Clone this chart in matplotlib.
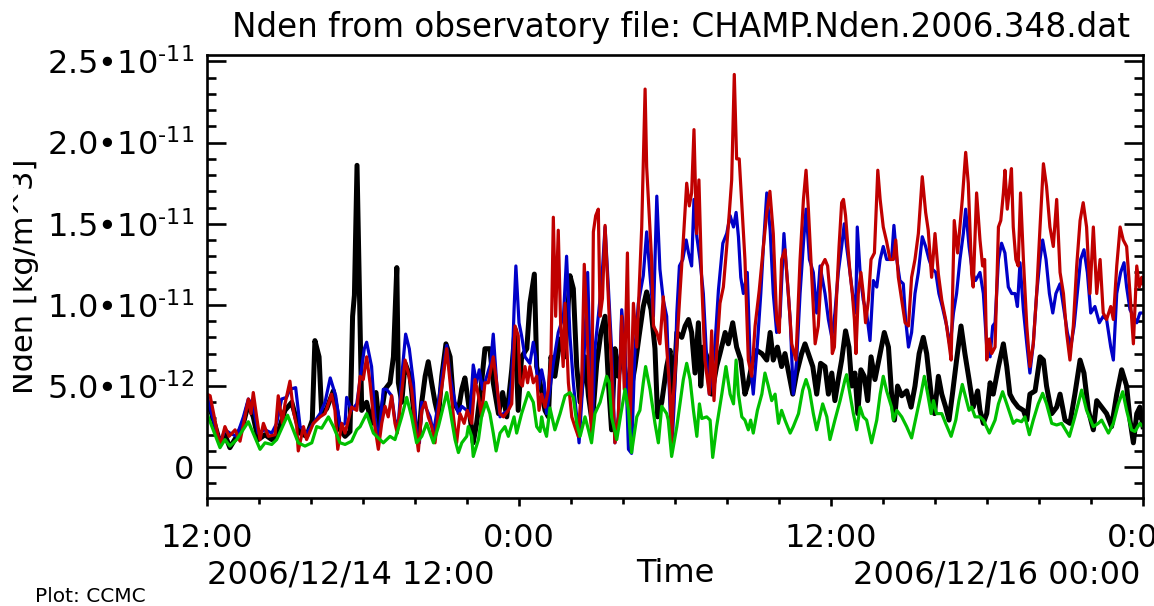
import numpy as np
import matplotlib
matplotlib.use('Agg')
import matplotlib.pyplot as plt
from matplotlib.ticker import MultipleLocator
from matplotlib.transforms import Bbox, TransformedBbox

plt.rcParams['font.family'] = ['DejaVu Sans']
plt.rcParams['mathtext.fontset'] = 'dejavusans'

# hours after 2006/12/14 12:00, densities in units of 1e-12 kg/m^3
t_black = [0.0, 0.18, 0.5, 0.69, 0.88, 1.14, 1.40, 1.59, 1.78, 1.97, 2.23, 2.49, 2.68, 3.00, 3.26, 3.58, 3.83, 4.05, 4.15, 4.31,
           4.41, 4.60, 4.86, 5.12, 5.31, 5.50, 5.60, 5.67, 5.77,
           5.95, 6.14, 6.33, 6.50, 6.63, 6.85, 7.04, 7.17, 7.30, 7.36, 7.49, 7.62, 7.81, 8.00, 8.13, 8.26, 8.39, 8.51, 8.64, 8.77,
           8.90, 9.03, 9.19, 9.35, 9.48, 9.67, 9.80, 9.92, 10.05, 10.24, 10.37, 10.56, 10.69, 10.88, 11.01, 11.21, 11.37, 11.53, 11.72, 11.85, 11.97,
           12.10, 12.30, 12.42, 12.59, 12.68, 12.81, 13.00, 13.13, 13.23, 13.38, 13.58, 13.77, 13.96, 14.09, 14.22, 14.35, 14.54, 14.67, 14.82, 14.99,
           15.15, 15.31, 15.44, 15.56, 15.69, 15.82, 15.97, 16.14, 16.31, 16.46, 16.62, 16.78, 16.91, 17.08, 17.23, 17.33, 17.49, 17.68,
           17.81, 17.94, 18.07, 18.26, 18.39, 18.52, 18.64, 18.77, 18.90, 18.99, 19.09, 19.28, 19.41, 19.60, 19.73, 19.93, 20.05, 20.22, 20.37, 20.53,
           20.69, 20.82, 20.99, 21.14, 21.34, 21.53, 21.66, 21.78, 21.94, 22.10, 22.23, 22.40, 22.53, 22.68, 22.87, 23.00, 23.13, 23.30, 23.45, 23.60,
           23.77, 23.90, 24.03, 24.15, 24.28, 24.41, 24.56, 24.69, 24.80, 24.92, 25.03, 25.15, 25.28, 25.41, 25.54, 25.69, 25.89, 26.05, 26.21, 26.33,
           26.44, 26.56, 26.72, 26.91, 27.08, 27.23, 27.39, 27.55, 27.68, 27.85, 27.98, 28.13, 28.26, 28.41, 28.54, 28.67, 28.83, 29.00, 29.15, 29.31,
           29.47, 29.64,
           29.73, 29.86, 29.99, 30.12, 30.24, 30.44, 30.63, 30.76, 30.88, 31.01, 31.20, 31.40, 31.53, 31.65, 31.85, 32.04, 32.17, 32.29, 32.49, 32.68,
           32.81, 33.00, 33.19, 33.38, 33.58, 33.73, 33.90, 34.09, 34.22, 34.41, 34.60, 34.79, 34.99, 35.18, 35.37, 35.50, 35.63, 35.76, 35.88, 36.0]
v_black = [4.0, 3.3, 1.5, 2.0, 1.2, 1.9, 2.7, 3.9, 3.1, 1.7, 2.0, 1.7, 1.9, 3.5, 4.0, 2.1, 1.9, 2.9, 7.8, 6.8,
           3.3, 3.6, 4.7, 2.3, 1.9, 2.2, 9.3, 10.6, 18.6,
           3.5, 4.0, 2.7, 4.6, 2.5, 4.8, 5.2, 6.8, 12.3, 5.2, 4.0, 6.4, 5.6, 2.7, 1.7, 4.0, 5.6, 6.5, 5.2, 4.0,
           3.1, 5.6, 7.6, 6.8, 4.0, 3.5, 4.8, 5.5, 4.0, 1.5, 2.7, 5.2, 7.3, 7.3, 5.2, 3.3, 4.6, 3.1, 6.0, 8.5, 3.5,
           6.8, 7.3, 10.1, 11.9, 6.2, 5.2, 3.5, 3.1, 6.8, 5.6, 7.9, 6.8, 11.8, 11.0, 6.2, 4.0, 6.8, 4.4, 2.7, 6.4,
           8.3, 9.3, 5.2, 2.3, 7.3, 5.6, 7.3, 5.2, 4.8, 6.2, 8.1, 9.9, 10.8, 9.7, 7.3, 3.1, 4.0, 6.2,
           7.2, 4.5, 8.3, 8.0, 8.7, 9.1, 8.3, 5.8, 8.9, 5.0, 7.4, 6.6, 4.5, 6.2, 7.0, 8.3, 7.6, 8.9, 7.4, 6.6,
           4.5, 5.2, 6.6, 7.2, 7.0, 6.6, 8.3, 6.6, 7.4, 6.2, 7.0, 5.6, 4.5, 5.8, 7.0, 7.6, 7.0, 6.2, 4.5, 6.4,
           6.2, 4.5, 5.8, 4.1, 5.4, 6.6, 8.4, 7.4, 5.0, 5.8, 3.3, 6.0, 5.6, 4.1, 6.8, 5.4, 7.0, 8.3, 7.4, 4.5,
           2.9, 5.0, 4.4, 4.7, 3.7, 5.0, 7.0, 8.0, 7.0, 4.5, 3.3, 5.6, 4.5, 3.7, 2.9, 4.5, 6.6, 8.7, 7.0, 5.4,
           3.7, 4.7,
           3.5, 2.7, 3.3, 5.2, 4.5, 6.2, 7.6, 6.2, 4.5, 4.1, 3.7, 3.5, 2.9, 4.5, 4.7, 6.8, 6.6, 5.0, 3.3, 3.7,
           4.5, 2.9, 2.7, 4.5, 6.6, 5.8, 3.5, 2.3, 4.1, 3.7, 3.3, 2.5, 4.5, 6.0, 5.0, 2.9, 1.5, 3.3, 3.7, 2.5]

t_blue = [0.0, 0.18, 0.5, 0.69, 0.88, 1.14, 1.40, 1.59, 1.78, 1.97, 2.23, 2.49, 2.68, 2.87, 3.06, 3.19, 3.41, 3.58, 3.83, 4.09,
          4.35, 4.54, 4.74, 4.95, 5.12, 5.31, 5.37, 5.56, 5.76, 6.05,
          6.14, 6.33, 6.46, 6.59, 6.78, 6.91, 7.10, 7.23, 7.36, 7.49, 7.64, 7.78, 7.94, 8.06, 8.17, 8.26, 8.39, 8.58, 8.71, 8.90,
          9.09, 9.22, 9.35, 9.54, 9.67, 9.80, 9.99, 10.12, 10.24, 10.37, 10.47, 10.60, 10.76, 10.91, 11.01, 11.14, 11.27, 11.40, 11.59, 11.72,
          11.81, 11.88,
          12.0, 12.10, 12.23, 12.42, 12.55, 12.64, 12.74, 12.87, 12.97, 13.06, 13.19, 13.32, 13.51, 13.71, 13.83, 13.96, 14.09, 14.22, 14.31, 14.41,
          14.54, 14.64, 14.73, 14.82, 14.92, 15.05, 15.18, 15.31, 15.44, 15.56, 15.69, 15.82, 15.95, 16.08, 16.21, 16.33, 16.46, 16.59, 16.78, 16.91,
          17.04, 17.17, 17.30, 17.42, 17.55, 17.68, 17.81, 17.90, 17.97,
          18.07, 18.17, 18.30, 18.43, 18.52, 18.64, 18.73, 18.84, 18.96, 19.09, 19.22, 19.32, 19.41, 19.54, 19.67, 19.84, 19.99, 20.12, 20.25, 20.35,
          20.44, 20.53, 20.63, 20.78, 20.89, 21.01, 21.17, 21.30, 21.40, 21.53, 21.66, 21.78, 21.91, 22.04, 22.19, 22.30, 22.43, 22.55, 22.68, 22.81,
          22.94, 23.04, 23.17, 23.32, 23.45, 23.58,
          23.77, 23.90, 24.03, 24.15, 24.28, 24.41, 24.51, 24.60, 24.73, 24.86, 24.95, 25.01, 25.12, 25.24, 25.37, 25.50, 25.63, 25.76, 25.89, 26.01,
          26.14, 26.33, 26.42, 26.53, 26.65, 26.78, 26.87, 26.98, 27.10, 27.23, 27.36, 27.51, 27.64, 27.77, 27.90, 28.03, 28.15, 28.28, 28.45, 28.58,
          28.71, 28.83, 28.96, 29.09, 29.18, 29.31, 29.44, 29.56,
          29.73, 29.86, 29.99, 30.12, 30.22, 30.31, 30.44, 30.56, 30.69, 30.82, 30.95, 31.08, 31.17, 31.27, 31.40, 31.53, 31.65, 31.78, 31.91, 32.04,
          32.14, 32.27, 32.40, 32.53, 32.65, 32.81, 32.94, 33.09, 33.22, 33.35, 33.47, 33.60, 33.73, 33.86, 33.99, 34.15, 34.32, 34.47, 34.60, 34.76,
          34.86, 34.99, 35.14, 35.27, 35.37, 35.50, 35.63, 35.76, 35.88, 36.0]
v_blue = [4.4, 3.3, 1.5, 2.3, 2.1, 1.9, 3.1, 4.2, 3.75, 2.1, 2.3, 2.1, 2.7, 4.2, 4.3, 4.8, 4.9, 2.5, 2.1, 2.7,
          3.3, 4.0, 5.5, 4.4, 2.5, 2.7, 4.3, 3.5, 3.9, 7.3,
          7.7, 6.2, 3.1, 1.5, 4.8, 4.8, 4.4, 2.9, 2.7, 5.6, 8.2, 7.3, 5.2, 2.1, 1.5, 4.0, 3.75, 3.1, 2.1, 4.0,
          6.2, 7.5, 5.6, 4.0, 3.3, 3.75, 3.5, 3.3, 6.3, 5.2, 6.0, 4.8, 5.6, 6.4, 8.2, 5.2, 3.1, 3.3, 3.5, 5.4,
          9.7, 12.4,
          8.9, 8.1, 6.8, 6.4, 7.7, 6.8, 4.8, 6.0, 5.2, 3.3, 4.8, 6.4, 8.3, 9.3, 13.0, 8.1, 5.2, 3.1, 1.5, 4.0,
          8.1, 12.0, 6.8, 2.3, 7.3, 9.3, 11.4, 14.8, 11.0, 7.3, 1.5, 3.1, 9.7, 7.3, 1.1, 0.85, 7.3, 10.1, 11.8, 14.5,
          11.8, 9.3, 16.7, 12.2, 10.3, 9.3, 3.5, 1.8, 4.0,
          9.5, 12.4, 12.8, 14.0, 13.2, 12.4, 16.5, 14.2, 12.8, 10.7, 6.6, 4.5, 5.6, 7.6, 10.9, 13.8, 14.4, 15.5, 14.8, 15.7,
          14.2, 11.7, 10.7, 12.0, 6.6, 4.5, 7.6, 10.7, 13.6, 16.9, 14.6, 10.7, 8.3, 9.3, 14.4, 11.9, 9.1, 4.5, 6.6, 10.7,
          13.8, 15.9, 12.8, 12.0, 9.5, 12.4,
          10.7, 9.1, 8.0, 9.5, 12.0, 13.6, 15.0, 13.6, 12.0, 10.3, 9.5, 14.8, 12.0, 10.3, 9.5, 7.8, 11.5, 11.1, 12.8, 13.6,
          12.8, 12.8, 14.9, 12.8, 11.5, 11.3, 9.1, 7.4, 8.3, 10.7, 12.0, 14.2, 13.6, 12.8, 12.2, 12.0, 10.7, 9.9, 8.7, 7.4,
          9.5, 10.7, 12.8, 14.4, 15.9, 13.6, 12.0, 11.5,
          12.0, 10.7, 7.4, 6.8, 8.7, 8.9, 12.8, 13.8, 13.2, 11.1, 10.7, 10.7, 9.9, 12.6, 9.7, 7.6, 5.8, 7.6, 10.7, 12.8,
          14.0, 12.8, 10.7, 9.5, 10.7, 11.3, 9.9, 8.3, 7.4, 8.7, 10.7, 12.8, 13.4, 12.0, 9.5, 9.9, 8.9, 9.3, 9.1, 7.4,
          6.6, 10.7, 12.0, 12.6, 11.1, 9.7, 9.3, 8.9, 9.5, 9.5]

t_red = [0.0, 0.12, 0.5, 0.69, 0.85, 1.08, 1.27, 1.46, 1.59, 1.69, 1.78, 1.91, 2.04, 2.17, 2.36, 2.62, 2.74, 2.90, 3.0, 3.19,
         3.32, 3.45, 3.51, 3.71, 3.83, 4.09, 4.35, 4.54, 4.79, 4.92, 5.03, 5.18, 5.31, 5.56, 5.76,
         5.89, 6.01, 6.14, 6.27, 6.40, 6.59, 6.72, 6.85, 6.97, 7.10, 7.23, 7.32, 7.45, 7.62, 7.74, 7.87, 8.00, 8.13, 8.26, 8.39,
         8.51, 8.64, 8.77, 8.90, 9.09, 9.22, 9.35, 9.48, 9.60, 9.73, 9.89, 10.01, 10.18, 10.31, 10.44, 10.56, 10.69, 10.82, 11.01, 11.14,
         11.27, 11.40, 11.59, 11.72,
         11.85, 11.97, 12.04, 12.13, 12.23, 12.33, 12.42, 12.55, 12.68, 12.77, 12.87, 13.0, 13.13, 13.23, 13.32, 13.41, 13.51, 13.60, 13.70, 13.77,
         13.90, 14.03, 14.15, 14.28, 14.41, 14.51, 14.60, 14.69, 14.79, 14.86, 14.95, 15.05, 15.12, 15.21, 15.31, 15.41, 15.56, 15.69, 15.82, 15.95,
         16.05, 16.17, 16.27, 16.40, 16.53, 16.72,
         16.85, 16.91, 17.10, 17.17, 17.30, 17.42, 17.55, 17.68, 17.81, 17.87, 17.94, 18.06, 18.19, 18.32, 18.45, 18.55, 18.64, 18.73, 18.83, 18.92,
         19.03, 19.15, 19.32, 19.41, 19.50, 19.60, 19.73, 19.86, 19.99, 20.09, 20.18, 20.28, 20.37, 20.47, 20.56, 20.69, 20.82, 20.95, 21.08, 21.24,
         21.40, 21.53, 21.65, 21.78, 21.91, 22.01, 22.10, 22.23, 22.36, 22.49, 22.65, 22.81, 22.94, 23.04, 23.13, 23.26, 23.39, 23.51, 23.64,
         23.77, 23.87, 23.96, 24.05, 24.13, 24.22, 24.31, 24.41, 24.48, 24.56, 24.64, 24.73, 24.82, 24.90, 24.96, 25.05, 25.15, 25.24, 25.33, 25.44,
         25.54, 25.67, 25.80, 25.89, 26.01, 26.14, 26.27, 26.40, 26.49, 26.59, 26.72, 26.85, 26.98, 27.10, 27.23, 27.36, 27.51, 27.64, 27.74, 27.87,
         28.00, 28.13, 28.26, 28.41, 28.54, 28.62, 28.74, 28.87, 29.05, 29.18, 29.28, 29.41, 29.47, 29.60,
         29.73, 29.83, 29.91, 29.99, 30.09, 30.18, 30.31, 30.44, 30.53, 30.63, 30.69, 30.78, 30.86, 30.94, 31.01, 31.11, 31.20, 31.29, 31.40, 31.53,
         31.65, 31.78, 31.91, 32.04, 32.17, 32.29, 32.42, 32.55, 32.68, 32.81, 32.94, 33.06, 33.19, 33.32, 33.45, 33.58, 33.70, 33.83, 33.96, 34.09,
         34.22, 34.35, 34.47, 34.60, 34.76, 34.86, 34.99, 35.12, 35.24, 35.37, 35.50, 35.63, 35.76, 35.86, 35.95, 36.0]
v_red = [4.5, 4.4, 1.3, 2.5, 1.9, 2.3, 1.6, 3.1, 4.2, 3.3, 4.6, 3.1, 1.7, 2.7, 1.9, 2.0, 4.4, 2.7, 3.9, 5.3,
         3.5, 2.5, 1.0, 2.5, 1.7, 2.7, 3.1, 3.3, 4.5, 3.5, 1.1, 2.7, 2.1, 3.7, 3.5,
         5.6, 5.4, 6.8, 5.2, 3.1, 1.1, 2.7, 3.75, 3.1, 4.4, 2.7, 2.1, 4.0, 6.6, 5.8, 4.8, 2.7, 1.0, 3.5, 4.0,
         3.1, 2.5, 1.5, 3.5, 5.6, 7.3, 5.2, 3.1, 1.5, 3.3, 2.7, 3.5, 2.7, 5.4, 4.4, 3.1, 5.2, 5.2, 6.8, 5.2,
         3.3, 3.1, 3.5, 3.9,
         8.7, 8.1, 5.2, 5.0, 6.2, 5.2, 6.2, 5.2, 5.6, 3.5, 4.5, 3.7, 4.8, 6.8, 15.4, 9.3, 14.6, 8.9, 6.2, 10.1,
         5.2, 3.1, 2.5, 1.9, 5.2, 12.5, 9.3, 5.2, 2.1, 14.5, 15.5, 15.9, 9.3, 10.4, 14.9, 11.4, 6.2, 1.5, 3.1, 9.3,
         4.8, 13.2, 2.5, 10.1, 7.4, 14.8,
         23.3, 18.5, 12.8, 8.7, 8.3, 7.6, 10.5, 7.4, 4.5, 1.5, 4.5, 7.2, 10.7, 14.0, 17.5, 16.1, 16.9, 20.8, 14.4, 17.7,
         11.3, 6.6, 4.5, 8.4, 4.1, 7.0, 10.1, 11.1, 13.6, 15.7, 17.7, 24.2, 19.0, 19.0, 16.5, 12.8, 6.6, 5.6, 8.7, 10.9,
         13.6, 15.7, 17.0, 14.4, 9.1, 8.3, 12.8, 13.4, 10.7, 7.6, 6.6, 12.8, 16.5, 18.3, 15.9, 11.7, 7.6, 8.7, 12.4,
         12.8, 12.4, 10.7, 7.0, 7.4, 10.7, 13.6, 16.3, 16.5, 15.5, 13.8, 12.0, 10.7, 9.1, 7.0, 10.7, 12.0, 10.7, 8.9, 10.3,
         12.8, 13.2, 18.3, 16.5, 14.8, 13.9, 12.8, 12.8, 14.0, 11.7, 10.3, 8.9, 8.7, 11.7, 12.8, 14.4, 17.9, 15.7, 14.6, 11.7,
         14.4, 11.9, 10.3, 9.1, 7.6, 6.6, 15.2, 13.2, 16.5, 19.4, 17.5, 11.9, 11.1, 16.9,
         14.0, 12.4, 12.8, 6.6, 7.9, 7.0, 7.4, 14.8, 15.2, 16.9, 18.3, 15.9, 17.1, 18.4, 14.8, 12.8, 12.4, 16.9, 12.8, 8.7,
         6.2, 7.6, 10.7, 14.8, 18.7, 17.3, 14.8, 13.6, 16.5, 12.0, 10.7, 8.3, 6.6, 8.7, 12.4, 15.2, 16.3, 14.8, 10.7, 14.8,
         10.7, 12.8, 9.5, 9.1, 9.9, 9.1, 12.4, 14.8, 14.0, 13.6, 10.7, 7.6, 12.4, 11.1, 11.7, 11.3]

t_green = [0.0, 0.5, 0.69, 0.88, 1.14, 1.59, 2.04, 2.23, 2.49, 2.68, 3.10, 3.51, 3.77, 4.03, 4.22, 4.41, 4.67, 4.86, 5.12, 5.31,
           5.56, 5.76,
           5.89, 6.14, 6.40, 6.78, 7.04, 7.23, 7.49, 7.68, 7.87, 8.06, 8.26, 8.45, 8.71, 8.90, 9.09, 9.22, 9.35, 9.54, 9.67, 9.80,
           9.99, 10.05, 10.18, 10.24, 10.44, 10.56, 10.73, 10.88, 11.01, 11.12, 11.27, 11.46, 11.59, 11.81,
           11.91, 12.10, 12.36, 12.55, 12.68, 12.81, 12.87, 12.94, 13.06, 13.19, 13.38, 13.58, 13.77, 13.96, 14.09, 14.22, 14.35, 14.54, 14.67, 14.79,
           14.92, 15.12, 15.37, 15.47, 15.56, 15.76, 15.92, 16.08, 16.21, 16.33, 16.53, 16.65, 16.78, 16.87, 17.04, 17.23, 17.36, 17.49, 17.68, 17.74,
           17.87,
           18.07, 18.32, 18.45, 18.58, 18.71, 18.84, 18.94, 19.03, 19.22, 19.35, 19.45, 19.60, 19.80, 19.96, 20.12, 20.25, 20.35, 20.44, 20.57, 20.69,
           20.82, 20.91, 21.01, 21.17, 21.34, 21.46, 21.59, 21.72, 21.85, 21.98, 22.10, 22.23, 22.43, 22.55, 22.75, 22.91, 23.04, 23.17, 23.32, 23.45,
           23.68, 23.84,
           23.96, 24.15, 24.35, 24.54, 24.60, 24.73, 24.86, 24.99, 25.12, 25.24, 25.37, 25.56, 25.76, 25.89, 26.01, 26.14, 26.33, 26.40, 26.53, 26.72,
           26.91, 27.10, 27.30, 27.46, 27.59, 27.72, 27.85, 27.94, 28.06, 28.26, 28.41, 28.62, 28.80, 28.92, 29.05, 29.18, 29.31, 29.41, 29.54,
           29.73, 29.86, 30.09, 30.31, 30.44, 30.60, 30.76, 31.01, 31.14, 31.33, 31.46, 31.63, 31.78, 31.97, 32.14, 32.29, 32.49, 32.68, 32.87, 33.17,
           33.38, 33.64, 33.83, 34.09, 34.28, 34.41, 34.67, 34.86, 35.05, 35.22, 35.37, 35.56, 35.69, 35.88, 36.0]
v_green = [3.3, 1.2, 1.7, 1.3, 1.7, 2.8, 1.1, 1.5, 1.4, 1.7, 3.2, 1.5, 1.3, 1.5, 2.5, 2.4, 3.1, 2.5, 1.5, 1.4,
           1.6, 2.3,
           2.5, 3.3, 2.1, 1.5, 1.9, 1.7, 3.1, 4.3, 3.1, 1.5, 1.9, 2.7, 1.5, 2.5, 3.75, 4.6, 3.5, 1.7, 0.9, 1.5,
           1.9, 2.5, 1.9, 0.66, 1.7, 3.1, 4.0, 3.3, 2.1, 1.0, 2.1, 2.5, 1.9, 3.1,
           2.1, 3.3, 4.6, 4.0, 2.5, 2.2, 3.1, 2.5, 1.9, 3.65, 2.3, 3.3, 4.4, 4.6, 4.3, 2.7, 1.9, 3.1, 2.3, 1.5,
           3.3, 4.0, 5.6, 5.2, 3.1, 1.7, 3.3, 4.8, 3.5, 0.9, 3.1, 3.5, 5.2, 6.2, 4.8, 2.7, 1.5, 3.75, 3.3, 2.9,
           0.66,
           2.5, 5.4, 6.4, 5.4, 3.5, 1.9, 3.9, 3.0, 3.1, 2.9, 0.6, 2.5, 4.5, 6.2, 4.5, 3.9, 6.6, 4.5, 3.1, 2.9,
           2.3, 2.9, 2.1, 3.5, 4.5, 5.8, 5.0, 4.1, 4.5, 2.7, 3.5, 2.9, 2.1, 2.5, 3.3, 4.75, 5.4, 4.75, 3.3, 2.3,
           3.9, 3.1,
           1.7, 2.9, 4.1, 5.4, 5.7, 4.5, 3.3, 2.3, 3.7, 3.1, 2.9, 1.5, 2.9, 4.5, 5.6, 4.7, 3.7, 2.9, 3.5, 3.1,
           2.5, 1.8, 3.3, 4.5, 5.6, 4.5, 3.3, 4.1, 3.3, 3.3, 2.7, 1.9, 2.9, 4.1, 5.1, 4.3, 3.5, 3.7, 3.1,
           3.1, 2.9, 2.1, 2.9, 3.9, 4.65, 3.9, 2.7, 2.9, 2.8, 3.1, 2.0, 2.9, 3.9, 4.55, 3.9, 2.7, 2.6, 2.7, 1.9,
           3.1, 4.75, 3.5, 2.5, 2.7, 2.9, 2.1, 2.7, 3.9, 4.65, 3.5, 2.3, 2.2, 2.7, 2.5]

xtick_pos = [0, 12, 24, 36]
xtick_lab = ['12:00', '0:00', '12:00', '0:00']
ytick_pos = [0, 5, 10, 15, 20, 25]
ytick_lab = ['0', '5.0•10$^{‐12}$', '1.0•10$^{‐11}$', '1.5•10$^{‐11}$', '2.0•10$^{‐11}$', '2.5•10$^{‐11}$']

fs = 23
fig = plt.figure(figsize=(11.54, 6.06), dpi=100)
ax = fig.add_axes([207/1154, 1-498/606, 936/1154, 443/606])

sc = 1e-12
ax.plot(t_black, np.array(v_black)*sc, color='black', lw=3.6, solid_joinstyle='round')
ax.plot(t_blue, np.array(v_blue)*sc, color='#0000c8', lw=2.3, solid_joinstyle='round')
ax.plot(t_red, np.array(v_red)*sc, color='#c00000', lw=2.3, solid_joinstyle='round')
ax.plot(t_green, np.array(v_green)*sc, color='#00c000', lw=2.3, solid_joinstyle='round')

ax.set_xlim(0, 36)
ax.set_ylim(-1.9e-12, 25.4e-12)
ax.set_xticks(xtick_pos)
ax.set_xticklabels(xtick_lab, fontsize=fs)
ax.xaxis.set_minor_locator(MultipleLocator(2))
ax.set_yticks([p*sc for p in ytick_pos])
ax.set_yticklabels(ytick_lab, fontsize=fs)
ax.yaxis.set_minor_locator(MultipleLocator(1e-12))

for s in ax.spines.values():
    s.set_linewidth(1.9)
ax.tick_params(axis='y', which='both', direction='in', left=True, right=True, width=1.9, pad=9)
ax.tick_params(axis='y', which='major', length=13.5)
ax.tick_params(axis='y', which='minor', length=6.5)
ax.tick_params(axis='x', which='both', direction='out', top=False, width=1.9)
ax.tick_params(axis='x', which='major', length=6, pad=12)
ax.tick_params(axis='x', which='minor', length=4)

ax.set_title('Nden from observatory file: CHAMP.Nden.2006.348.dat', fontsize=23.5, pad=13,
             x=(681.5-207)/936)
ax.set_xlabel('Time', fontsize=fs)
ax.xaxis.set_label_coords(0.5, -(574-498)/443)
ax.xaxis.label.set_va('center')

fig.text(207/1154, 1-575/606, '2006/12/14 12:00', fontsize=fs, ha='left', va='center')
fig.text(1140/1154, 1-575/606, '2006/12/16 00:00', fontsize=fs, ha='right', va='center')
ylab = fig.text(33/1154, 1-276/606, 'Nden [kg/m^3]', fontsize=22, rotation=90,
                ha='center', va='baseline', rotation_mode='anchor')
ylab.set_clip_box(TransformedBbox(Bbox([[13/1154, 0], [1, 1]]), fig.transFigure))
ylab.set_clip_on(True)
fig.text(35/1154, 1-597/606, 'Plot: CCMC', fontsize=14.5, ha='left', va='center')

fig.savefig('out.png', dpi=100)
